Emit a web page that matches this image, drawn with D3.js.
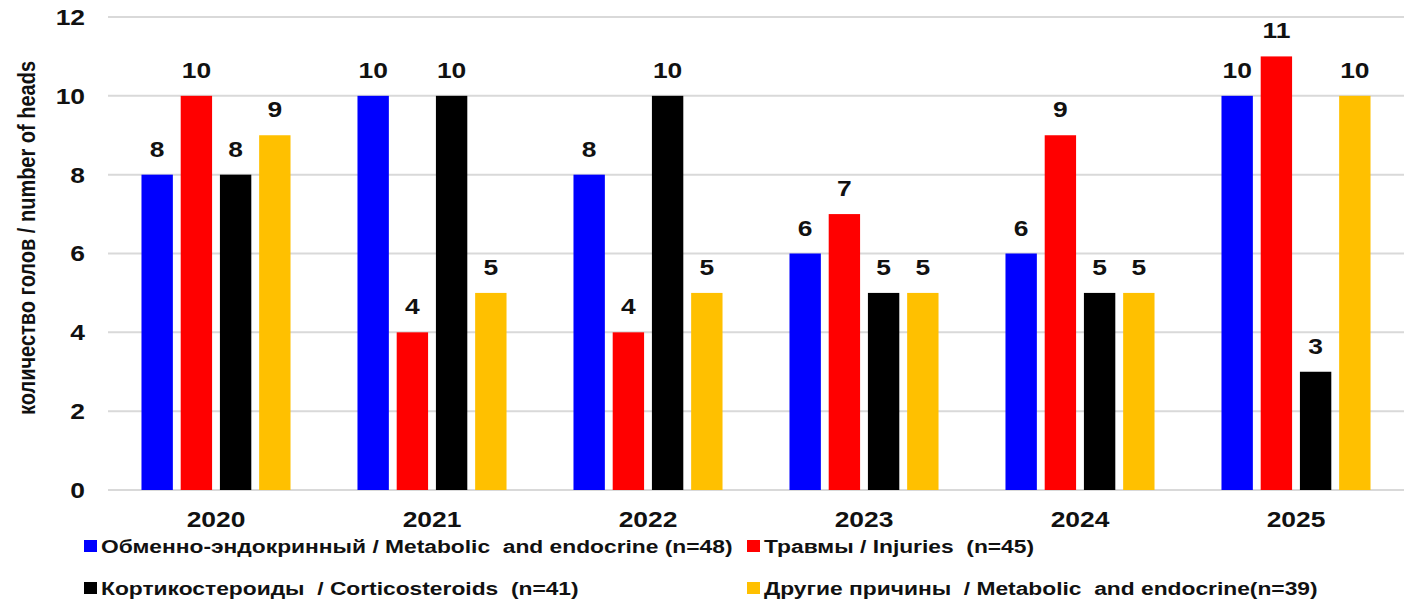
<!DOCTYPE html>
<html>
<head>
<meta charset="utf-8">
<script src="https://cdn.jsdelivr.net/npm/d3@7"></script>
<style>
  body { margin: 0; background: #fff; }
  svg text { font-family: Arial, "Liberation Sans", sans-serif; font-weight: bold; fill: #111; white-space: pre; }
</style>
</head>
<body>
<svg id="chart" width="1421" height="606"></svg>
<script>
// data
var years = ["2020", "2021", "2022", "2023", "2024", "2025"];
var seriesNames = [
  "Обменно-эндокринный / Metabolic  and endocrine (n=48)",
  "Травмы / Injuries  (n=45)",
  "Кортикостероиды  / Corticosteroids  (n=41)",
  "Другие причины  / Metabolic  and endocrine(n=39)"
];
var metabolic = [8, 10, 8, 6, 6, 10];
var injuries = [10, 4, 4, 7, 9, 11];
var corticosteroids = [8, 10, 10, 5, 5, 3];
var other = [9, 5, 5, 5, 5, 10];
var yTicks = [0, 2, 4, 6, 8, 10, 12];
var colors = ["#0000ff", "#ff0000", "#000000", "#ffc000"];
var yLabel = "количество голов / number of heads";

var seriesValues = [metabolic, injuries, corticosteroids, other];
var keys = d3.range(seriesValues.length);

// the picture is a bit stretched sideways, text too
var stretch = 1.2;

var svg = d3.select("#chart");

var x0 = d3.scaleBand()
  .domain(years)
  .range([108, 1404])
  .paddingInner(0.31)
  .paddingOuter(0.155);

var x1 = d3.scaleBand()
  .domain(keys)
  .range([0, x0.bandwidth()])
  .paddingInner(0.2);

var y = d3.scaleLinear()
  .domain([0, 12])
  .range([490, 17]);

// gridlines
svg.append("g")
  .selectAll("line")
  .data(yTicks)
  .enter().append("line")
  .attr("x1", 108)
  .attr("x2", 1404)
  .attr("y1", function(d) { return y(d); })
  .attr("y2", function(d) { return y(d); })
  .attr("stroke", "#d9d9d9")
  .attr("stroke-width", 2);

// y tick labels
svg.append("g")
  .selectAll("text")
  .data(yTicks)
  .enter().append("text")
  .attr("transform", function(d) { return "translate(85," + y(d) + ") scale(" + stretch + ",1)"; })
  .attr("dy", "0.36em")
  .attr("text-anchor", "end")
  .style("font-size", "22px")
  .text(function(d) { return d; });

// y axis title
svg.append("text")
  .attr("transform", "translate(35,238) rotate(-90) scale(1," + stretch + ")")
  .attr("text-anchor", "middle")
  .style("font-size", "20px")
  .text(yLabel);

// bars
var groups = svg.append("g")
  .selectAll("g")
  .data(years)
  .enter().append("g")
  .attr("transform", function(d) { return "translate(" + x0(d) + ",0)"; });

groups.selectAll("rect")
  .data(function(d, i) { return keys.map(function(k) { return { k: k, v: seriesValues[k][i] }; }); })
  .enter().append("rect")
  .attr("x", function(d) { return x1(d.k); })
  .attr("y", function(d) { return y(d.v); })
  .attr("width", x1.bandwidth())
  .attr("height", function(d) { return y(0) - y(d.v); })
  .attr("fill", function(d) { return colors[d.k]; });

groups.selectAll("text")
  .data(function(d, i) { return keys.map(function(k) { return { k: k, v: seriesValues[k][i] }; }); })
  .enter().append("text")
  .attr("transform", function(d) {
    return "translate(" + (x1(d.k) + x1.bandwidth() / 2) + "," + (y(d.v) - 18) + ") scale(" + stretch + ",1)";
  })
  .attr("text-anchor", "middle")
  .style("font-size", "22px")
  .text(function(d) { return d.v; });

// x labels
svg.append("g")
  .selectAll("text")
  .data(years)
  .enter().append("text")
  .attr("transform", function(d) { return "translate(" + (x0(d) + x0.bandwidth() / 2) + ",527) scale(" + stretch + ",1)"; })
  .attr("text-anchor", "middle")
  .style("font-size", "22px")
  .text(function(d) { return d; });

// legend, two rows of two
var legendPos = [[84, 546], [747, 546], [84, 588], [747, 588]];
var legend = svg.append("g")
  .selectAll("g")
  .data(keys)
  .enter().append("g")
  .attr("transform", function(k) { return "translate(" + legendPos[k][0] + "," + legendPos[k][1] + ")"; });

legend.append("rect")
  .attr("x", 0)
  .attr("y", -6)
  .attr("width", 13)
  .attr("height", 12)
  .attr("fill", function(k) { return colors[k]; });

legend.append("text")
  .attr("transform", "translate(17,7) scale(" + stretch + ",1)")
  .style("font-size", "19px")
  .text(function(k) { return seriesNames[k]; });
</script>
</body>
</html>
